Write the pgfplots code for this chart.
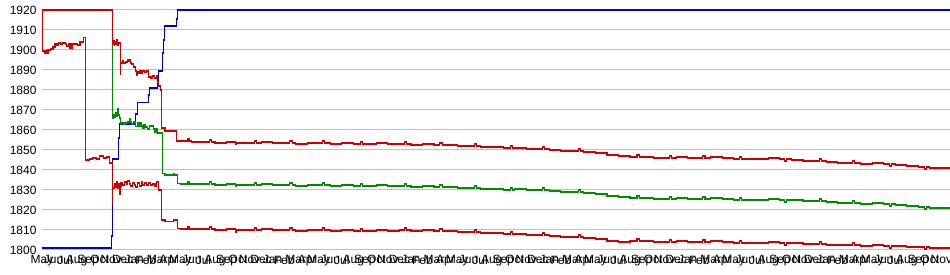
\documentclass[border=0pt]{standalone}
\usepackage{pgfplots}
\usepackage{pgfplotstable}
\pgfplotsset{compat=1.18}
\usepackage{fontspec}
\setmainfont{Liberation Sans}
\definecolor{cred}{RGB}{204,0,0}
\definecolor{cgreen}{RGB}{0,140,0}
\definecolor{cblue}{RGB}{0,0,200}
\definecolor{cgrid}{RGB}{192,192,192}

% head of upper red series
\pgfplotstableread{
x y
0 1920
6.10 1903
6.18 1904.5
6.25 1902.5
6.32 1904
6.42 1903
6.5 1905
6.58 1902.5
6.66 1903.5
6.77 1888
6.80 1893.5
6.95 1894.5
7.1 1893.5
7.25 1894
7.4 1895
7.5 1894.5
7.62 1895
7.7 1893.5
7.78 1893
7.95 1891.5
8.13 1889.5
8.2 1887.5
8.28 1889
8.4 1888.5
8.5 1889.5
8.62 1888.5
8.75 1889.5
8.9 1889
9.05 1889.5
9.22 1886.5
9.45 1886
9.6 1887
9.75 1886
9.95 1887
10.02 1884
10.12 1882
10.25 1880
10.38 1861
10.67 1859.5
11.68 1854.5
12 1854.5
}\redhihead

% head of lower red series
\pgfplotstableread{
x y
0 1920
0.08 1899.5
0.2 1898.5
0.3 1899.5
0.4 1898.5
0.52 1900
0.75 1900.5
0.95 1901.5
1.13 1903
1.3 1902.5
1.45 1903.5
1.6 1903
1.8 1903.5
2.0 1903
2.15 1902
2.3 1903
2.43 1900.8
2.6 1903
2.85 1903
3.1 1902.5
3.3 1904
3.58 1906.3
3.79 1845
4.1 1845.5
4.4 1846
4.7 1845.5
5.0 1847
5.3 1846
5.6 1846.5
5.85 1843.5
6.10 1823.5
6.14 1831
6.25 1833
6.35 1831.5
6.45 1834
6.55 1831
6.65 1833
6.72 1828
6.78 1832
6.85 1833.5
7.0 1832.5
7.15 1834
7.3 1833
7.45 1834.5
7.55 1833
7.7 1832
7.85 1833.5
8.0 1832.5
8.13 1831.5
8.3 1833.5
8.45 1832
8.6 1834
8.75 1832.5
8.9 1833.5
9.05 1832.5
9.2 1833.5
9.4 1832.5
9.6 1833
9.8 1832
9.95 1834
10.09 1830
10.38 1815
10.67 1814.2
11.39 1815
11.73 1810.8
12 1810.5
}\redlohead

% head of green series
\pgfplotstableread{
x y
6.10 1906.5
6.14 1866
6.22 1867.5
6.3 1866.5
6.4 1868.5
6.48 1867
6.55 1870.5
6.62 1867.5
6.7 1866
6.77 1862.8
6.85 1863.5
7.05 1863
7.2 1863.5
7.4 1864
7.55 1865.5
7.7 1864
7.78 1863
7.9 1864
8.13 1861.7
8.25 1863.5
8.35 1862
8.5 1863.5
8.6 1862
8.7 1861
8.85 1862.5
9.0 1861.5
9.15 1860.5
9.3 1862
9.5 1862
9.65 1860.5
9.8 1859
9.95 1860.5
10.05 1858.5
10.45 1838.3
10.67 1837.5
11.39 1838
11.5 1837.5
11.73 1833.3
12 1833
}\greenhead

% blue series
\pgfplotstableread{
x y
0 1801
6.06 1807
6.12 1845.5
6.64 1856
6.72 1863
8.13 1868
8.25 1873.7
9.22 1877.5
9.35 1881
10.0 1885
10.1 1889.5
10.42 1898.5
10.5 1905
10.6 1912
11.68 1915.5
11.73 1920
78.75 1920
}\bluedata

% common tail: x, upper red, green, lower red
\pgfplotstableread{
x u g l
12 1854.5 1833 1810.5
12.6 1855.5 1834 1811.5
12.75 1854.5 1833 1810.5
13 1854 1833 1810.5
14 1854 1833 1810.5
14.5 1855 1834 1811.5
14.7 1854 1833 1810.5
15 1853.5 1832.5 1810
16 1854 1833 1810.5
16.8 1853 1832 1809
16.9 1853.5 1832.5 1810
17 1853.5 1832.5 1810
18 1853.5 1832.5 1810
18.4 1854.5 1833.5 1811
18.6 1853.5 1832.5 1810
19 1854 1833 1810.5
20 1853.5 1832.5 1810
21 1853.5 1832.5 1810
21.5 1854.5 1833.5 1811
21.7 1853.5 1832.5 1810
22 1853 1832 1809.5
23 1853.5 1832.5 1810
24 1853.5 1832.5 1810
24.3 1854.5 1833.5 1811
24.5 1853.5 1832.5 1810
25 1853 1832 1809.5
26 1853.5 1832.5 1810
27 1853 1832 1809.5
27.6 1854 1833 1810.5
27.8 1853 1832 1809.5
28 1853 1832 1809.5
29 1853.5 1832.5 1810
30 1853 1832 1809.5
31 1853 1832 1810
31.4 1854 1833 1811
31.6 1853 1832 1810
32 1852.5 1831.5 1809.5
33 1853 1832 1810
34 1852.5 1831.5 1809.5
34.5 1853.5 1832.5 1810.5
34.7 1852.5 1831.5 1809.5
35 1852.5 1831.5 1809.5
36 1852 1831 1809
37 1852 1831 1809
37.5 1853 1832 1810
37.7 1852 1831 1809
38 1851.5 1830.5 1808.5
39 1851.5 1830.5 1808.5
40 1851 1830 1808
40.6 1852 1831 1809
40.8 1851 1830 1808
41 1851 1830.5 1808
42 1850.5 1830 1807.5
43 1850.5 1830 1807.5
43.4 1851.5 1831 1808.5
43.6 1850.5 1830 1807.5
44 1850 1829.5 1807
45 1849.5 1829 1806.5
46 1849.5 1829 1806.5
46.5 1850.5 1830 1807.5
46.7 1849.5 1829 1806.5
47 1849 1828.5 1806
48 1848.5 1828 1805.5
49 1847.5 1827 1804.5
50 1847 1826.5 1804
51 1846.5 1826 1804.5
51.6 1847.5 1827 1805.5
51.8 1846.5 1826 1804.5
52 1846.5 1826 1804.5
53 1846 1825.5 1804
54 1846 1825.5 1804
54.4 1847 1826.5 1805
54.6 1846 1825.5 1804
55 1846.5 1826 1804.5
56 1846 1825.5 1804
57 1846 1825.5 1804
57.3 1847 1826.5 1805
57.5 1846 1825.5 1804
58 1846.5 1826 1804.5
59 1846 1825.5 1804
60 1845.5 1825 1803.5
60.5 1846.5 1826 1804.5
60.7 1845.5 1825 1803.5
61 1845.5 1825 1803.5
62 1845.5 1825 1803.5
63 1846 1825.5 1804
64 1845.5 1825 1803.5
64.4 1844.5 1824 1802.5
64.6 1845.5 1825 1803.5
65 1845 1825 1803.5
66 1844.5 1824.5 1803
67 1844.5 1824.5 1803
67.4 1845.5 1825.5 1804
67.6 1844.5 1824.5 1803
68 1844 1824 1802.5
69 1843.5 1823.5 1802.5
70 1843.5 1823.5 1802.5
70.3 1844.5 1824.5 1803.5
70.5 1843.5 1823.5 1802.5
71 1843 1823 1802
72 1843.5 1823.5 1802.5
73 1843 1823 1802
73.5 1842 1822 1801
73.7 1843 1823 1802
74 1842.5 1822.5 1802
75 1842 1822 1801.5
76 1841.5 1821.5 1801.5
76.5 1840.5 1820.5 1800.5
76.7 1841.5 1821.5 1801.5
77 1841 1821 1801
78 1841 1821 1801
78.75 1841 1821 1801
}\taildata

\begin{document}
\begin{tikzpicture}
\path[use as bounding box] (0,0) rectangle (950pt,275pt);
\begin{axis}[
  at={(42pt,25pt)}, anchor=south west,
  scale only axis, width=908pt, height=240pt,
  xmin=0, xmax=78.75, ymin=1800, ymax=1920,
  clip=false,
  axis line style={draw=none},
  tick style={draw=none},
  ymajorgrids, grid style={cgrid, line width=1pt},
  ytick={1800,1810,...,1920},
  /pgf/number format/1000 sep={},
  /pgf/number format/assume math mode=true,
  yticklabel style={font=\fontsize{12}{14}\selectfont, xshift=-2pt},
  xticklabel style={font=\fontsize{12}{14}\selectfont, yshift=-2pt},
  xtick={0,...,78},
  xticklabels={May,Jun,Jul,Aug,Sep,Oct,Nov,Dec,Jan,Feb,Mar,Apr,
               May,Jun,Jul,Aug,Sep,Oct,Nov,Dec,Jan,Feb,Mar,Apr,
               May,Jun,Jul,Aug,Sep,Oct,Nov,Dec,Jan,Feb,Mar,Apr,
               May,Jun,Jul,Aug,Sep,Oct,Nov,Dec,Jan,Feb,Mar,Apr,
               May,Jun,Jul,Aug,Sep,Oct,Nov,Dec,Jan,Feb,Mar,Apr,
               May,Jun,Jul,Aug,Sep,Oct,Nov,Dec,Jan,Feb,Mar,Apr,
               May,Jun,Jul,Aug,Sep,Oct,Nov},
  every axis plot/.append style={line width=1.1pt, const plot, no marks},
]
\addplot[cblue] table[x=x,y=y] {\bluedata};
\addplot[cgreen] table[x=x,y=y] {\greenhead};
\addplot[cgreen] table[x=x,y=g] {\taildata};
\addplot[cred] table[x=x,y=y] {\redlohead};
\addplot[cred] table[x=x,y=l] {\taildata};
\addplot[cred] table[x=x,y=y] {\redhihead};
\addplot[cred] table[x=x,y=u] {\taildata};
\end{axis}
\end{tikzpicture}
\end{document}
